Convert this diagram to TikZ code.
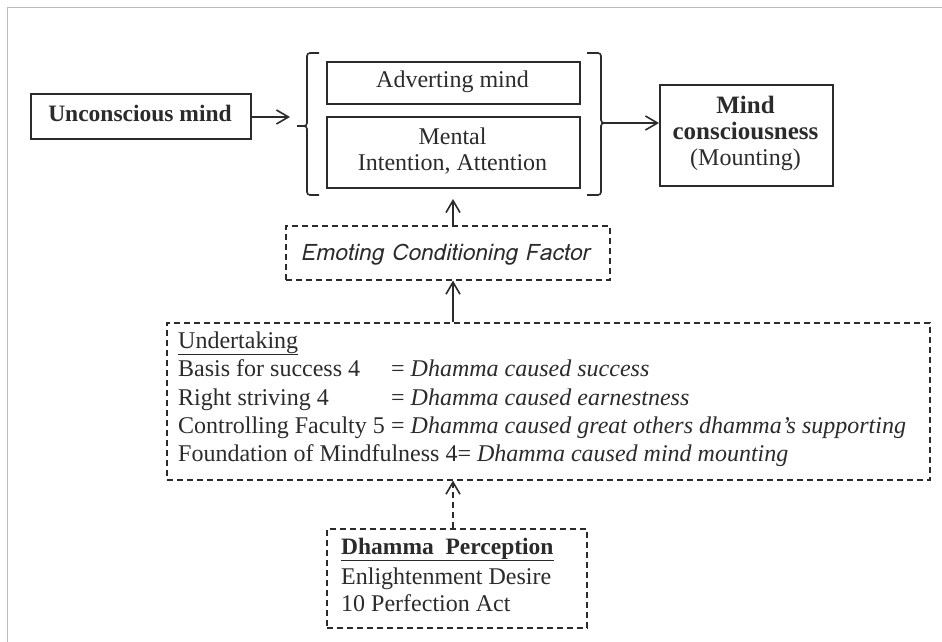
\documentclass[tikz,border=0pt]{standalone}
\usepackage{fontspec}
\setmainfont{Liberation Serif}
\newfontfamily\emofont{Loma}
\usetikzlibrary{arrows.meta}
\definecolor{ink}{HTML}{2B2B2B}
\definecolor{framegray}{HTML}{BBBBBB}
\tikzset{
  solidbox/.style={draw=ink, line width=1.6pt, inner sep=0pt, anchor=north west},
  dashbox/.style={draw=ink, line width=1.6pt, dash pattern=on 6pt off 4pt, inner sep=0pt, anchor=north west},
  txt/.style={text=ink, font=\fontsize{24}{28}\selectfont, inner sep=0pt, text height=17pt, text depth=5pt},
  conn/.style={draw=ink, line width=1.6pt, -{Straight Barb[length=12pt,width=14pt,line width=1.6pt]}},
  dconn/.style={conn, dash pattern=on 6pt off 4pt},
  brk/.style={draw=ink, line width=1.6pt, rounded corners=3pt},
}
\begin{document}
\begin{tikzpicture}[x=1pt,y=-1pt]
\useasboundingbox (0,0) rectangle (942,642);
\fill[white] (0,0) rectangle (942,642);
% frame
\draw[framegray, line width=1pt] (7.5,642) -- (7.5,7.5) -- (942,7.5);

% boxes
\node[solidbox, minimum width=220pt, minimum height=45pt] (unc) at (30,93) {};
\node[txt, font=\fontsize{23.5}{26}\selectfont\bfseries] (unct) at (140,115) {Unconscious mind};

\node[solidbox, minimum width=253pt, minimum height=42pt] (adv) at (326,61) {};
\node[txt] (advt) at (452.5,82) {Adverting mind};

\node[solidbox, minimum width=253pt, minimum height=71pt] (men) at (326,116) {};
\node[txt] (ment1) at (452.5,138) {Mental};
\node[txt] (ment2) at (452.5,164) {Intention, Attention};

\node[solidbox, minimum width=173pt, minimum height=101pt] (mind) at (659,84) {};
\node[txt, font=\fontsize{25}{28}\selectfont\bfseries] (mindt1) at (745.5,107) {Mind};
\node[txt, font=\fontsize{25}{28}\selectfont\bfseries] (mindt2) at (745.5,133) {consciousness};
\node[txt] (mindt3) at (745.5,159) {(Mounting)};

\node[dashbox, minimum width=324pt, minimum height=54pt] (emo) at (285,225) {};
\node[txt, font=\fontsize{22.7}{26}\selectfont\emofont\itshape] (emot) at (445,254) {Emoting Conditioning Factor};

\node[dashbox, minimum width=763pt, minimum height=157pt] (und) at (166,322) {};
\node[txt, anchor=west] (u1) at (178,342) {\underline{Undertaking}};
\node[txt, anchor=west] (u2) at (178,370) {Basis for success 4};
\node[txt, anchor=west] (u2b) at (391,370) {= \textit{Dhamma caused success}};
\node[txt, anchor=west] (u3) at (178,399) {Right striving 4};
\node[txt, anchor=west] (u3b) at (391,399) {= \textit{Dhamma caused earnestness}};
\node[txt, anchor=west] (u4) at (178,427) {Controlling Faculty 5};
\node[txt, anchor=west] (u4b) at (391,427) {= \textit{Dhamma caused great others dhamma's supporting}};
\node[txt, anchor=west] (u5) at (178,455) {Foundation of Mindfulness 4= \textit{Dhamma caused mind mounting}};

\node[dashbox, minimum width=260pt, minimum height=99pt] (dham) at (326,528) {};
\node[txt, anchor=west, font=\fontsize{23.5}{26}\selectfont\bfseries] (d1) at (341,548) {\underline{Dhamma\ \ Perception}};
\node[txt, anchor=west] (d2) at (341,578) {Enlightenment Desire};
\node[txt, anchor=west] (d3) at (341,605) {10 Perfection Act};

% brackets
\coordinate (ltick) at (297,126);
\coordinate (rtick) at (613,123);
\coordinate (gbot) at (453,199);
\draw[brk] (319,53) -- (307,53) -- (307,126) -- (ltick);
\draw[brk] (ltick) -- (307,126) -- (307,195) -- (319,195);
\draw[brk] (587,53) -- (601,53) -- (601,123) -- (rtick);
\draw[brk] (rtick) -- (601,123) -- (601,195) -- (587,195);

% connectors
\coordinate (larr) at (290,117);
\draw[conn] (unc.east |- larr) -- (larr);
\draw[conn] (rtick) -- (mind.west |- rtick);
\draw[conn] (emo.north -| gbot) -- (gbot);
\draw[conn] (und.north -| gbot) -- (emo.south -| gbot);
\draw[dconn] (dham.north -| gbot) -- (und.south -| gbot);
\end{tikzpicture}
\end{document}
